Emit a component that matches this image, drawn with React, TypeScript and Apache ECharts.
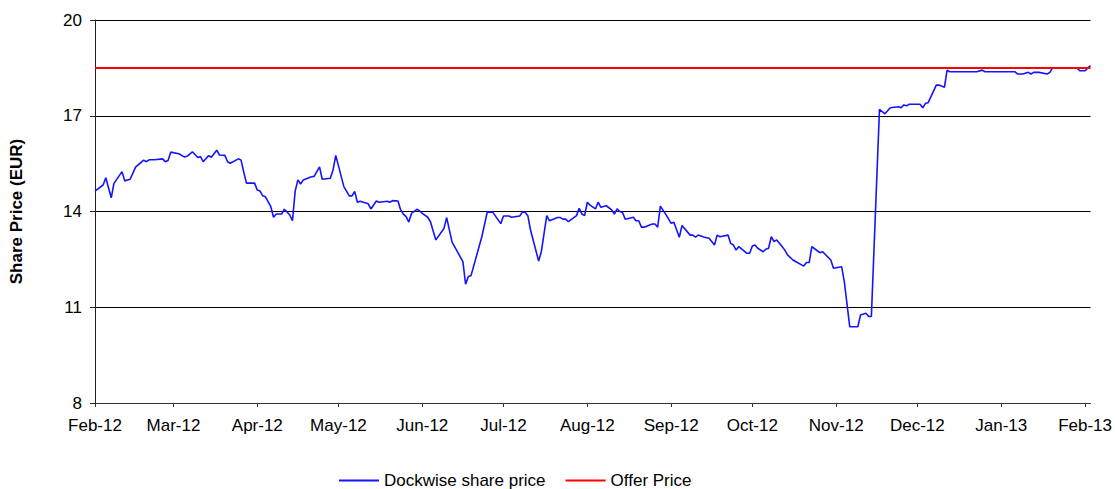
import React, { useEffect, useRef } from "react";
import * as echarts from "echarts";

const dates: string[] = [
  "2012-02-01","2012-02-04","2012-02-05","2012-02-07","2012-02-08","2012-02-11","2012-02-12","2012-02-14","2012-02-16","2012-02-19",
  "2012-02-20","2012-02-21","2012-02-23","2012-02-26","2012-02-27","2012-02-28","2012-02-29","2012-03-03","2012-03-05","2012-03-06",
  "2012-03-08","2012-03-10","2012-03-11","2012-03-12","2012-03-14","2012-03-15","2012-03-17","2012-03-18","2012-03-20","2012-03-21",
  "2012-03-22","2012-03-25","2012-03-26","2012-03-27","2012-03-28","2012-03-31","2012-04-01","2012-04-02","2012-04-03","2012-04-04",
  "2012-04-06","2012-04-07","2012-04-08","2012-04-10","2012-04-11","2012-04-13","2012-04-14","2012-04-15","2012-04-16","2012-04-17",
  "2012-04-18","2012-04-21","2012-04-22","2012-04-24","2012-04-25","2012-04-28","2012-04-29","2012-04-30","2012-05-03","2012-05-05",
  "2012-05-06","2012-05-07","2012-05-08","2012-05-09","2012-05-12","2012-05-13","2012-05-15","2012-05-16","2012-05-19","2012-05-20",
  "2012-05-21","2012-05-23","2012-05-24","2012-05-25","2012-05-26","2012-05-27","2012-05-28","2012-05-30","2012-05-31","2012-06-01",
  "2012-06-03","2012-06-04","2012-06-06","2012-06-09","2012-06-10","2012-06-12","2012-06-16","2012-06-17","2012-06-18","2012-06-19",
  "2012-06-23","2012-06-25","2012-06-27","2012-06-30","2012-07-01","2012-07-03","2012-07-04","2012-07-07","2012-07-08","2012-07-09",
  "2012-07-10","2012-07-11","2012-07-14","2012-07-15","2012-07-17","2012-07-18","2012-07-21","2012-07-22","2012-07-23","2012-07-24",
  "2012-07-25","2012-07-28","2012-07-29","2012-07-30","2012-07-31","2012-08-01","2012-08-02","2012-08-04","2012-08-05","2012-08-06",
  "2012-08-08","2012-08-10","2012-08-11","2012-08-12","2012-08-13","2012-08-14","2012-08-15","2012-08-18","2012-08-19","2012-08-20",
  "2012-08-21","2012-08-22","2012-08-25","2012-08-26","2012-08-27","2012-08-28","2012-08-30","2012-09-01","2012-09-02","2012-09-04",
  "2012-09-05","2012-09-08","2012-09-09","2012-09-10","2012-09-11","2012-09-13","2012-09-15","2012-09-17","2012-09-18","2012-09-19",
  "2012-09-22","2012-09-23","2012-09-24","2012-09-25","2012-09-26","2012-09-29","2012-09-30","2012-10-01","2012-10-02","2012-10-03",
  "2012-10-05","2012-10-06","2012-10-07","2012-10-08","2012-10-09","2012-10-10","2012-10-12","2012-10-13","2012-10-14","2012-10-16",
  "2012-10-20","2012-10-21","2012-10-22","2012-10-23","2012-10-25","2012-10-26","2012-10-27","2012-10-30","2012-10-31","2012-11-03",
  "2012-11-04","2012-11-06","2012-11-09","2012-11-10","2012-11-12","2012-11-13","2012-11-14","2012-11-17","2012-11-19","2012-11-21",
  "2012-11-24","2012-11-25","2012-11-26","2012-11-27","2012-11-28","2012-12-02","2012-12-03","2012-12-04","2012-12-05","2012-12-08",
  "2012-12-09","2012-12-11","2012-12-12","2012-12-13","2012-12-23","2012-12-25","2012-12-26","2013-01-06","2013-01-07","2013-01-09",
  "2013-01-11","2013-01-12","2013-01-13","2013-01-15","2013-01-18","2013-01-19","2013-01-20","2013-01-29","2013-01-30","2013-02-01",
  "2013-02-02","2013-02-03"
];

const prices: number[] = [
  14.64,14.83,15.06,14.43,14.88,15.25,14.96,15.01,15.39,15.61,
  15.56,15.62,15.62,15.65,15.56,15.60,15.86,15.81,15.71,15.73,
  15.87,15.69,15.72,15.56,15.75,15.70,15.92,15.77,15.76,15.56,
  15.51,15.65,15.61,15.23,14.89,14.89,14.67,14.64,14.49,14.46,
  14.15,13.82,13.92,13.92,14.07,13.89,13.71,14.64,14.99,14.86,
  14.99,15.09,15.10,15.40,15.01,15.04,15.30,15.76,14.78,14.49,
  14.49,14.63,14.29,14.32,14.24,14.08,14.33,14.29,14.32,14.29,
  14.34,14.33,14.05,13.92,13.84,13.67,13.94,14.07,14.02,13.94,
  13.82,13.68,13.11,13.47,13.81,13.04,12.43,11.72,11.96,11.99,
  13.21,13.98,13.98,13.62,13.86,13.86,13.82,13.86,13.98,13.98,
  13.87,13.42,12.45,12.74,13.87,13.71,13.81,13.81,13.76,13.76,
  13.68,13.87,14.10,13.92,13.87,14.29,14.20,14.08,14.29,14.13,
  14.18,14.05,13.92,14.08,14.00,13.97,13.76,13.82,13.71,13.71,
  13.51,13.51,13.61,13.61,13.51,14.17,13.91,13.63,13.66,13.19,
  13.56,13.26,13.26,13.20,13.26,13.20,13.16,12.95,13.26,13.21,
  13.26,13.00,12.95,12.79,12.90,12.69,12.69,12.92,12.95,12.85,
  12.74,12.82,12.85,13.21,13.06,13.11,12.90,12.79,12.64,12.48,
  12.29,12.40,12.40,12.90,12.77,12.71,12.74,12.48,12.22,12.27,
  11.80,10.39,10.39,10.76,10.81,10.71,10.71,17.20,17.06,17.25,
  17.28,17.25,17.34,17.31,17.36,17.36,17.25,17.39,17.41,17.96,
  17.96,17.89,18.43,18.38,18.38,18.43,18.38,18.38,18.31,18.31,
  18.36,18.31,18.36,18.36,18.31,18.36,18.50,18.50,18.41,18.41,
  18.49,18.57
];

const OFFER_PRICE = 18.5;
const X_MIN = "2012-02-01";
const X_MAX = "2013-02-03";
const Y_MIN = 8;
const Y_MAX = 20;
const Y_STEP = 3;
const MONTH_TICKS: string[] = [
  "2012-02-01","2012-03-01","2012-04-01","2012-05-01","2012-06-01","2012-07-01",
  "2012-08-01","2012-09-01","2012-10-01","2012-11-01","2012-12-01","2013-01-01","2013-02-01"
];
const MONTH_NAMES = ["Jan","Feb","Mar","Apr","May","Jun","Jul","Aug","Sep","Oct","Nov","Dec"];
const SERIES_NAMES = ["Dockwise share price", "Offer Price"];

function toTime(s: string): number {
  const [y, m, d] = s.split("-").map(Number);
  return Date.UTC(y, m - 1, d);
}

export default function App() {
  const ref = useRef<HTMLDivElement>(null);
  useEffect(() => {
    const chart = echarts.init(ref.current!, null, { renderer: "svg" });
    const font = "Arial, 'Liberation Sans', sans-serif";
    const tickTimes = MONTH_TICKS.map(toTime);
    chart.setOption({
      animation: false,
      backgroundColor: "#ffffff",
      grid: { left: 94, right: 24, top: 20, bottom: 86, containLabel: false },
      legend: {
        left: 334,
        top: 467,
        itemWidth: 40,
        itemHeight: 2,
        itemGap: 20,
        icon: "rect",
        data: SERIES_NAMES,
        textStyle: { fontFamily: font, fontSize: 17, color: "#000" },
      },
      xAxis: {
        type: "value",
        min: toTime(X_MIN),
        max: toTime(X_MAX),
        axisLine: { show: true, onZero: false, lineStyle: { color: "#333", width: 1 } },
        axisTick: { show: true, length: 4, lineStyle: { color: "#333" }, customValues: tickTimes },
        splitLine: { show: false },
        axisLabel: {
          customValues: tickTimes,
          margin: 14,
          fontFamily: font,
          fontSize: 17,
          color: "#000",
          formatter: (v: number) => {
            const d = new Date(v);
            return MONTH_NAMES[d.getUTCMonth()] + "-" + String(d.getUTCFullYear()).slice(2);
          },
        },
      },
      yAxis: {
        type: "value",
        min: Y_MIN,
        max: Y_MAX,
        interval: Y_STEP,
        name: "Share Price (EUR)",
        nameLocation: "middle",
        nameGap: 70,
        nameTextStyle: { fontFamily: font, fontSize: 17, fontWeight: "bold", color: "#000" },
        axisLine: { show: true, lineStyle: { color: "#222", width: 1 } },
        axisTick: { show: true, length: 5, lineStyle: { color: "#222" } },
        splitLine: { show: true, lineStyle: { color: "#000", width: 1 } },
        axisLabel: { margin: 13, fontFamily: font, fontSize: 17, color: "#000" },
      },
      series: [
        {
          name: SERIES_NAMES[0],
          type: "line",
          data: dates.map((d, i) => [toTime(d), prices[i]]),
          showSymbol: false,
          symbol: "none",
          lineStyle: { color: "#1414ff", width: 1.6 },
          itemStyle: { color: "#1414ff" },
          z: 2,
        },
        {
          name: SERIES_NAMES[1],
          type: "line",
          data: [[toTime(X_MIN), OFFER_PRICE], [toTime(X_MAX), OFFER_PRICE]],
          showSymbol: false,
          symbol: "none",
          lineStyle: { color: "#ff0000", width: 2 },
          itemStyle: { color: "#ff0000" },
          z: 3,
        },
      ],
    });
    return () => chart.dispose();
  }, []);
  return (
    <div
      ref={ref}
      style={{ position: "fixed", left: 0, top: 0, width: 1115, height: 489, background: "#fff" }}
    />
  );
}
